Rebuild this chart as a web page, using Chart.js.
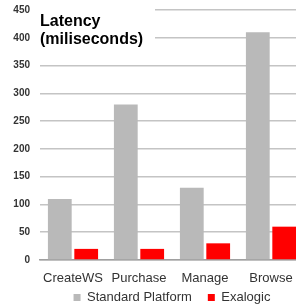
<!DOCTYPE html>
<html>
<head>
<meta charset="utf-8">
<script src="https://cdn.jsdelivr.net/npm/chart.js@4/dist/chart.umd.min.js"></script>
<style>
  html, body { margin: 0; padding: 0; background: #fff; overflow: hidden; }
  #wrap { position: absolute; left: 0; top: 0; width: 310px; height: 327px; }
</style>
</head>
<body>
<div id="wrap"><canvas id="latencyChart"></canvas></div>
<script>
const categories = ['CreateWS', 'Purchase', 'Manage', 'Browse'];
const standardPlatform = [110, 280, 130, 410];
const exalogic = [20, 20, 30, 60];
const yTicks = [0, 50, 100, 150, 200, 250, 300, 350, 400, 450];
const titleLines = ['Latency', '(miliseconds)'];

// title sits inside the plot, on a white box over the top gridlines
const titleBox = {
  id: 'titleBox',
  beforeDatasetsDraw(chart) {
    const ctx = chart.ctx;
    const area = chart.chartArea;
    ctx.save();
    ctx.fillStyle = '#fff';
    ctx.fillRect(area.left - 2, 0, 117, 50);
    ctx.fillStyle = '#000';
    ctx.font = 'bold 16px "Liberation Sans", Arial, sans-serif';
    ctx.textBaseline = 'alphabetic';
    ctx.fillText(titleLines[0], area.left, 26);
    ctx.fillText(titleLines[1], area.left, 44);
    ctx.restore();
  }
};

// legend sits closer to the axis labels than chart.js would put it
const legendNudge = {
  id: 'legendNudge',
  afterLayout(chart) {
    chart.legend.top -= 13;
    chart.legend.bottom -= 13;
  }
};

const canvas = document.getElementById('latencyChart');
new Chart(canvas.getContext('2d'), {
  type: 'bar',
  data: {
    labels: categories,
    datasets: [
      { label: 'Standard Platform', data: standardPlatform, backgroundColor: '#b9b9b9', borderWidth: 0 },
      { label: 'Exalogic', data: exalogic, backgroundColor: '#ff0000', borderWidth: 0 }
    ]
  },
  options: {
    responsive: true,
    maintainAspectRatio: false,
    animation: false,
    layout: { padding: { top: 10, right: 6, left: 0, bottom: 0 } },
    plugins: {
      legend: {
        position: 'bottom',
        fullSize: false,
        labels: {
          boxWidth: 7,
          boxHeight: 7,
          padding: 16,
          color: '#333',
          font: { family: '"Liberation Sans", Arial, sans-serif', size: 13 }
        }
      },
      tooltip: { enabled: false }
    },
    scales: {
      x: {
        afterFit(scale) { scale.height = 28; },
        grid: { display: false },
        border: { display: true, color: '#a0a0a0', width: 1.5 },
        categoryPercentage: 0.73,
        barPercentage: 1,
        ticks: {
          color: '#333',
          padding: 3,
          maxRotation: 0,
          font: { family: '"Liberation Sans", Arial, sans-serif', size: 13 }
        }
      },
      y: {
        min: 0,
        max: 450,
        afterFit(scale) {
          scale.width = 40;
          scale.paddingTop = 0;
          scale.paddingBottom = 0;
        },
        afterBuildTicks(scale) { scale.ticks = yTicks.map(v => ({ value: v })); },
        grid: { color: '#c4c4c4', lineWidth: 1.5, drawTicks: false },
        border: { display: false },
        ticks: {
          color: '#333',
          padding: 10,
          font: { family: '"Liberation Sans", Arial, sans-serif', size: 10, weight: 'bold' }
        }
      }
    }
  },
  plugins: [titleBox, legendNudge]
});
</script>
</body>
</html>
